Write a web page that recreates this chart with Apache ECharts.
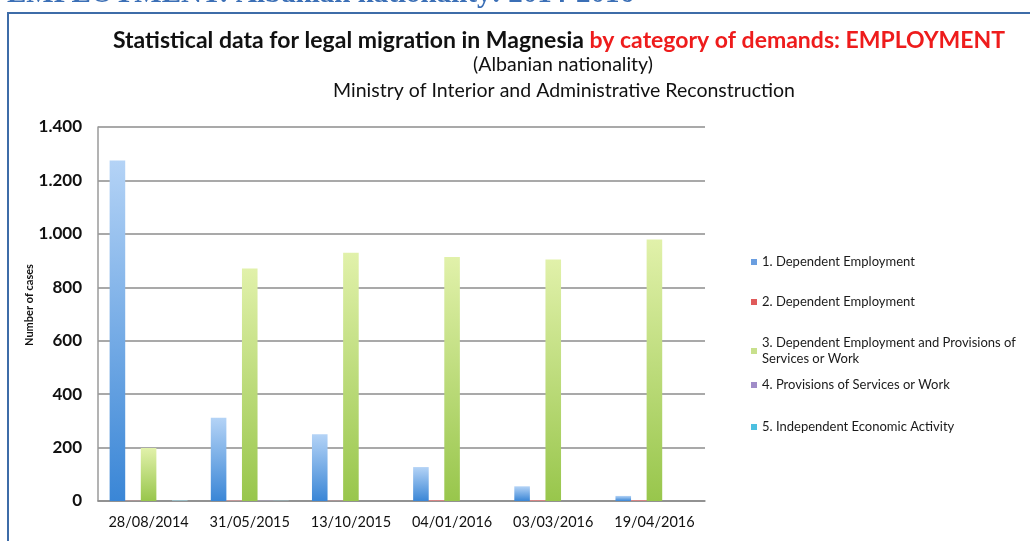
<!DOCTYPE html>
<html>
<head>
<meta charset="utf-8">
<script src="https://cdn.jsdelivr.net/npm/echarts@6/dist/echarts.min.js"></script>
<style>
  html, body { margin: 0; padding: 0; background: #ffffff; }
  #chart { width: 1030px; height: 541px; }
</style>
</head>
<body>
<div id="chart"></div>
<script>
// Application dates
const categories = ['28/08/2014', '31/05/2015', '13/10/2015', '04/01/2016', '03/03/2016', '19/04/2016'];

// Number of cases per category of demand
const depEmployment1 = [1275, 312, 250, 127, 55, 19];
const depEmployment2 = [1, 2, 1, 3, 3, 3];
const depEmploymentServices = [198, 870, 929, 913, 904, 979];
const servicesOrWork = [0, 1, 0, 0, 0, 0];
const independentActivity = [2, 1, 0, 0, 0, 0];

const seriesNames = [
  '1. Dependent Employment',
  '2. Dependent Employment',
  '3. Dependent Employment and Provisions of\nServices or Work',
  '4. Provisions of Services or Work',
  '5. Independent Economic Activity'
];
const yTicks = [0, 200, 400, 600, 800, 1000, 1200, 1400];
const yAxisTitle = 'Number of cases';

const uiFont = 'Lato, "Open Sans", sans-serif';

// gradient colour pairs (top, bottom) and flat legend swatch colour
const palette = [
  { top: '#b4d3f6', bottom: '#3a86d6', swatch: '#6a9ee0' },
  { top: '#f2a5a5', bottom: '#d64a4a', swatch: '#e05a5a' },
  { top: '#e1f1aa', bottom: '#98c64c', swatch: '#c8e08c' },
  { top: '#c9b8e4', bottom: '#8a6cbc', swatch: '#a08cc8' },
  { top: '#a8e4f2', bottom: '#34b4d8', swatch: '#4cc0e0' }
];
const values = [depEmployment1, depEmployment2, depEmploymentServices, servicesOrWork, independentActivity];

function grad(p) {
  return new echarts.graphic.LinearGradient(0, 0, 0, 1, [
    { offset: 0, color: p.top },
    { offset: 1, color: p.bottom }
  ]);
}

// one legend block per series so the two-line entry keeps the even spacing
const legendTops = [249, 289, 322, 372, 414];
const legends = seriesNames.map((name, i) => ({
  orient: 'vertical',
  left: 746,
  top: legendTops[i],
  icon: 'rect',
  itemWidth: 6,
  itemHeight: 6,
  itemGap: 0,
  selectedMode: false,
  data: [{ name: name, itemStyle: { color: palette[i].swatch } }],
  textStyle: {
    fontFamily: uiFont,
    fontSize: 13,
    color: '#1a1a1a',
    lineHeight: 16,
    padding: i === 2 ? [16, 0, 0, 0] : [0, 0, 0, 0]
  }
}));

const chart = echarts.init(document.getElementById('chart'), null, { renderer: 'canvas' });

chart.setOption({
  backgroundColor: '#ffffff',
  animation: false,
  title: [
    {
      left: 554,
      top: 24,
      textAlign: 'center',
      text: '{a|Statistical data for legal migration in Magnesia }{b|by category of demands: EMPLOYMENT}',
      textStyle: {
        rich: {
          a: { fontFamily: uiFont, fontSize: 23, fontWeight: 'bold', color: '#111111' },
          b: { fontFamily: uiFont, fontSize: 23, fontWeight: 'bold', color: '#ee1c1c' }
        }
      }
    },
    {
      left: 558,
      top: 50,
      textAlign: 'center',
      text: '(Albanian nationality)',
      textStyle: { fontFamily: uiFont, fontSize: 19.5, fontWeight: 'normal', color: '#111111' }
    },
    {
      left: 559,
      top: 76,
      textAlign: 'center',
      text: 'Ministry of Interior and Administrative Reconstruction',
      textStyle: { fontFamily: uiFont, fontSize: 19.5, fontWeight: 'normal', color: '#111111' }
    }
  ],
  legend: legends,
  grid: { left: 98, right: 325, top: 127, bottom: 40, containLabel: false },
  xAxis: {
    type: 'category',
    data: categories,
    axisLine: { show: true, lineStyle: { color: '#8a8a8a', width: 1.5 } },
    axisTick: { show: false },
    axisLabel: { interval: 0, fontFamily: uiFont, fontSize: 14.5, color: '#111111', margin: 14 }
  },
  yAxis: {
    type: 'value',
    min: yTicks[0],
    max: yTicks[yTicks.length - 1],
    interval: yTicks[1] - yTicks[0],
    axisLine: { show: true, lineStyle: { color: '#9a9a9a', width: 1.5 } },
    axisTick: { show: false },
    splitLine: { show: true, lineStyle: { color: '#8c8c8c', width: 1.5 } },
    axisLabel: {
      fontFamily: uiFont,
      fontSize: 17,
      fontWeight: 'bold',
      color: '#111111',
      margin: 16,
      formatter: v => String(v).replace(/\B(?=(\d{3})+(?!\d))/g, '.')
    }
  },
  series: seriesNames.map((name, i) => ({
    name: name,
    type: 'bar',
    data: values[i],
    barGap: '0%',
    barCategoryGap: '23%',
    itemStyle: { color: grad(palette[i]) },
    emphasis: { disabled: true }
  })),
  graphic: [
    {
      type: 'rect',
      shape: { x: 8, y: 13, width: 1200, height: 700 },
      style: { fill: 'none', stroke: '#3e6ca8', lineWidth: 2 },
      silent: true
    },
    {
      type: 'text',
      left: 7,
      top: -20,
      style: {
        text: 'EMPLOYMENT: Albanian nationality: 2014-2016',
        font: 'bold 29px "Liberation Serif", "DejaVu Serif", serif',
        fill: '#3b6fb6'
      },
      silent: true
    },
    {
      // vertical axis title, reading bottom to top
      type: 'text',
      x: 29,
      y: 305,
      rotation: Math.PI / 2,
      style: {
        text: yAxisTitle,
        font: 'bold 11px Lato, "Open Sans", sans-serif',
        fill: '#111111',
        align: 'center',
        verticalAlign: 'middle'
      },
      silent: true
    }
  ]
});
</script>
</body>
</html>
